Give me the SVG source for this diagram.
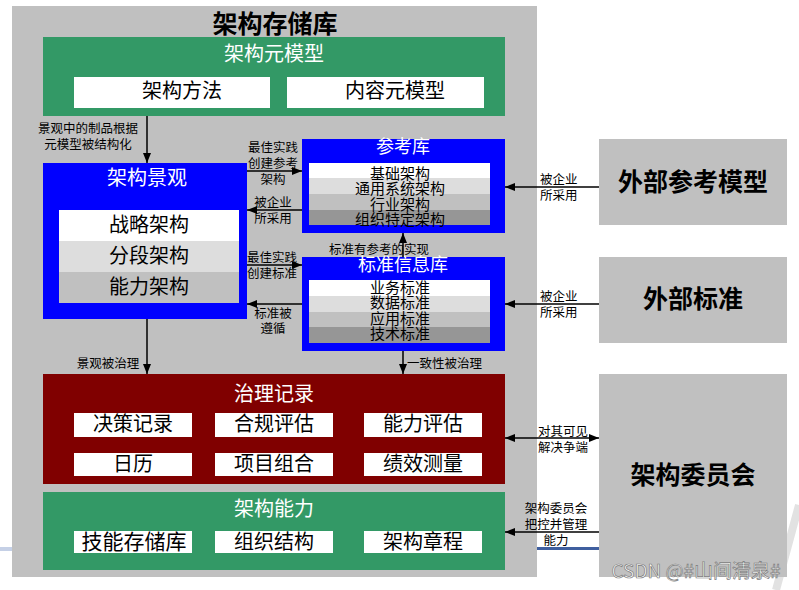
<svg xmlns="http://www.w3.org/2000/svg" width="799" height="590" viewBox="0 0 799 590">
<style>
text{font-family:"Noto Sans CJK SC","Noto Sans",sans-serif;text-anchor:middle;dominant-baseline:central}
.lbl{font-size:12.5px;fill:#000}
.ttl{font-size:20px;fill:#fff}
.ttl2{font-size:18px;fill:#fff}
.itm{font-size:20px;fill:#000}
.itm2{font-size:15px;fill:#000}
.big{font-size:25px;font-weight:bold;fill:#000}
.con{stroke:#000;stroke-width:1.5;fill:none;marker-end:url(#ah)}
</style>
<defs>
<marker id="ah" markerUnits="userSpaceOnUse" markerWidth="10" markerHeight="8" refX="10" refY="4" orient="auto-start-reverse">
<path d="M0,0 L10,4 L0,8 z" fill="#000"/>
</marker>
</defs>
<rect width="799" height="590" fill="#fff"/>
<rect x="0" y="547" width="12" height="4" fill="#c5d0e6"/>
<path d="M799,505 L776,590" stroke="#e2e2e2" stroke-width="8" fill="none"/>

<g id="repository">
<rect x="12" y="6" width="525" height="571" fill="#c0c0c0"/>
<text x="275" y="22" class="big">架构存储库</text>
</g>

<g id="metamodel">
<rect x="43" y="37" width="462" height="79" fill="#339966"/>
<text x="274" y="52" class="ttl">架构元模型</text>
<rect x="74" y="77" width="196" height="31" fill="#fff"/>
<text x="182" y="89" class="itm">架构方法</text>
<rect x="287" y="77" width="197" height="31" fill="#fff"/>
<text x="395" y="89" class="itm">内容元模型</text>
</g>

<g id="landscape">
<rect x="43" y="163" width="204" height="156" fill="#0000ff"/>
<text x="147" y="176" class="ttl">架构景观</text>
<rect x="59" y="210" width="180" height="31" fill="#fff"/>
<rect x="59" y="241" width="180" height="31" fill="#dddddd"/>
<rect x="59" y="272" width="180" height="31" fill="#c0c0c0"/>
<text x="149" y="223" class="itm">战略架构</text>
<text x="149" y="254" class="itm">分段架构</text>
<text x="149" y="285" class="itm">能力架构</text>
</g>

<g id="reference-library">
<rect x="302" y="139" width="203" height="94" fill="#0000ff"/>
<text x="403" y="145" class="ttl2">参考库</text>
<rect x="309" y="163" width="181" height="15" fill="#fff"/>
<rect x="309" y="178" width="181" height="16" fill="#dddddd"/>
<rect x="309" y="194" width="181" height="16" fill="#c0c0c0"/>
<rect x="309" y="210" width="181" height="15" fill="#969696"/>
<text x="400" y="172" class="itm2">基础架构</text>
<text x="400" y="187" class="itm2">通用系统架构</text>
<text x="400" y="203" class="itm2">行业架构</text>
<text x="400" y="218" class="itm2">组织特定架构</text>
</g>

<g id="standards-base">
<rect x="302" y="257" width="203" height="94" fill="#0000ff"/>
<text x="403" y="263" class="ttl2">标准信息库</text>
<rect x="309" y="280" width="181" height="16" fill="#fff"/>
<rect x="309" y="296" width="181" height="16" fill="#dddddd"/>
<rect x="309" y="312" width="181" height="15" fill="#c0c0c0"/>
<rect x="309" y="327" width="181" height="16" fill="#969696"/>
<text x="400" y="286" class="itm2">业务标准</text>
<text x="400" y="301" class="itm2">数据标准</text>
<text x="400" y="317" class="itm2">应用标准</text>
<text x="400" y="332" class="itm2">技术标准</text>
</g>

<g id="governance-log">
<rect x="43" y="374" width="462" height="110" fill="#800000"/>
<text x="274" y="392" class="ttl">治理记录</text>
<rect x="74" y="413" width="118" height="24" fill="#fff"/>
<rect x="215" y="413" width="118" height="24" fill="#fff"/>
<rect x="364" y="413" width="118" height="24" fill="#fff"/>
<rect x="74" y="453" width="118" height="23" fill="#fff"/>
<rect x="215" y="453" width="118" height="23" fill="#fff"/>
<rect x="364" y="453" width="118" height="23" fill="#fff"/>
<text x="133" y="422" class="itm">决策记录</text>
<text x="274" y="422" class="itm">合规评估</text>
<text x="423" y="422" class="itm">能力评估</text>
<text x="133" y="462" class="itm">日历</text>
<text x="274" y="462" class="itm">项目组合</text>
<text x="423" y="462" class="itm">绩效测量</text>
</g>

<g id="capability">
<rect x="43" y="492" width="462" height="78" fill="#339966"/>
<text x="274" y="507" class="ttl">架构能力</text>
<rect x="74" y="531" width="118" height="22" fill="#fff"/>
<rect x="215" y="531" width="118" height="22" fill="#fff"/>
<rect x="364" y="531" width="118" height="22" fill="#fff"/>
<text x="134" y="540" class="itm" style="font-size:21px">技能存储库</text>
<text x="274" y="540" class="itm">组织结构</text>
<text x="423" y="540" class="itm">架构章程</text>
</g>

<g id="external-reference">
<rect x="599" y="139" width="188" height="86" fill="#c0c0c0"/>
<text x="693" y="180" class="big">外部参考模型</text>
</g>

<g id="external-standards">
<rect x="599" y="257" width="188" height="86" fill="#c0c0c0"/>
<text x="693" y="297" class="big">外部标准</text>
</g>

<g id="board">
<rect x="599" y="374" width="188" height="203" fill="#c0c0c0"/>
<text x="693" y="473" class="big">架构委员会</text>
</g>

<rect x="537" y="547" width="62" height="3" fill="#3f5f9f"/>

<g id="connectors">
<path class="con" d="M147,116 V163"/>
<path class="con" d="M247,171 H302"/>
<path class="con" d="M302,210 H247"/>
<path class="con" d="M247,265 H302"/>
<path class="con" d="M302,304 H247"/>
<path class="con" d="M403,257 V233"/>
<path class="con" d="M147,319 V374"/>
<path class="con" d="M403,351 V374"/>
<path class="con" d="M599,187 H505"/>
<path class="con" d="M599,304 H505"/>
<path class="con" d="M505,438 H599" style="marker-start:url(#ah)"/>
<path class="con" d="M599,532 H505"/>
<text x="88" y="127" class="lbl">景观中的制品根据</text>
<text x="88" y="143" class="lbl">元模型被结构化</text>
<text x="273" y="146" class="lbl">最佳实践</text>
<text x="273" y="162" class="lbl">创建参考</text>
<text x="273" y="178" class="lbl">架构</text>
<text x="273" y="201" class="lbl">被企业</text>
<text x="273" y="217" class="lbl">所采用</text>
<text x="272" y="256" class="lbl">最佳实践</text>
<text x="272" y="272" class="lbl">创建标准</text>
<text x="273" y="312" class="lbl">标准被</text>
<text x="273" y="327" class="lbl">遵循</text>
<text x="379" y="248" class="lbl">标准有参考的实现</text>
<text x="108" y="362" class="lbl">景观被治理</text>
<text x="407" y="362" class="lbl" style="text-anchor:start">一致性被治理</text>
<text x="540" y="178" class="lbl" style="text-anchor:start">被企业</text>
<text x="540" y="194" class="lbl" style="text-anchor:start">所采用</text>
<text x="540" y="295" class="lbl" style="text-anchor:start">被企业</text>
<text x="540" y="311" class="lbl" style="text-anchor:start">所采用</text>
<text x="563" y="430" class="lbl">对其可见</text>
<text x="563" y="446" class="lbl">解决争端</text>
<text x="556" y="507" class="lbl">架构委员会</text>
<text x="556" y="523" class="lbl">把控并管理</text>
<text x="556" y="539" class="lbl">能力</text>
</g>

<text x="696" y="569" style="font-size:19px;fill:#ffffff;stroke:#7a7a7a;stroke-width:0.7">CSDN @#山间清泉#</text>
</svg>
